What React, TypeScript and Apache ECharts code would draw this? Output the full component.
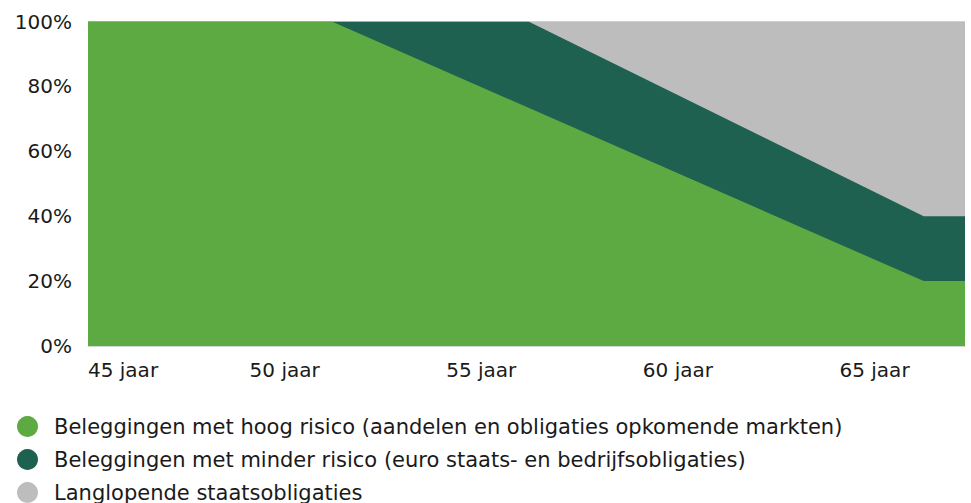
import React, { useEffect, useRef } from "react";
import * as echarts from "echarts";

const seriesNames = [
  "Beleggingen met hoog risico (aandelen en obligaties opkomende markten)",
  "Beleggingen met minder risico (euro staats- en bedrijfsobligaties)",
  "Langlopende staatsobligaties",
];
const colors = ["#5DAA43", "#1F6150", "#BDBDBD"];

// Upper edge of the green band (high risk)
const highRiskAges = [45, 51.2, 66.25, 67.3];
const highRiskTop = [100, 100, 20, 20];
// Upper edge of the dark-green band (high + lower risk)
const lowerRiskAges = [45, 56.2, 66.25, 67.3];
const lowerRiskTop = [100, 100, 40, 40];
// Upper edge of the grey band (everything)
const longBondAges = [45, 67.3];
const longBondTop = [100, 100];

const xTicks = [45, 50, 55, 60, 65];
const yTicks = [0, 20, 40, 60, 80, 100];

const FONT = "'DejaVu Sans', 'Liberation Sans', Arial, sans-serif";

const zip = (a: number[], b: number[]) => a.map((v, i) => [v, b[i]]);

export default function App() {
  const ref = useRef<HTMLDivElement>(null);
  useEffect(() => {
    if (!ref.current) return;
    const chart = echarts.init(ref.current, null, { renderer: "svg" });
    const area = (name: string, color: string, data: number[][], z: number) => ({
      name,
      type: "line",
      data,
      z,
      symbol: "none",
      showSymbol: false,
      lineStyle: { width: 0, color },
      itemStyle: { color },
      areaStyle: { color, opacity: 1 },
      silent: true,
    });
    const legendTops = [416, 449, 482];
    chart.setOption({
      animation: false,
      grid: { left: 88, right: 6, top: 21.5, bottom: 157 },
      xAxis: {
        type: "value",
        min: xTicks[0],
        max: 67.3,
        interval: 5,
        axisLine: { show: true, lineStyle: { color: "#cfd8cc", width: 1 } },
        axisTick: { show: false },
        splitLine: { show: false },
        axisLabel: {
          color: "#1a1a1a",
          fontSize: 20,
          fontFamily: FONT,
          margin: 14,
          showMaxLabel: false,
          alignMinLabel: "left",
          formatter: (v: number) => (xTicks.includes(v) ? `${v} jaar` : ""),
        },
      },
      yAxis: {
        type: "value",
        min: 0,
        max: 100,
        interval: 20,
        axisLine: { show: false },
        axisTick: { show: false },
        splitLine: { show: true, lineStyle: { color: "#d6d6d6", width: 1 } },
        axisLabel: {
          color: "#1a1a1a",
          fontSize: 20,
          fontFamily: FONT,
          margin: 16,
          formatter: (v: number) => (yTicks.includes(v) ? `${v}%` : ""),
        },
      },
      legend: seriesNames.map((name, i) => ({
        orient: "vertical",
        left: 17,
        top: legendTops[i],
        padding: 0,
        icon: "circle",
        itemWidth: 23,
        itemHeight: 21,
        selectedMode: false,
        data: [name],
        textStyle: {
          color: "#1a1a1a",
          fontSize: 21,
          fontFamily: FONT,
          padding: [0, 0, 0, 10],
        },
      })),
      series: [
        area(seriesNames[2], colors[2], zip(longBondAges, longBondTop), 1),
        area(seriesNames[1], colors[1], zip(lowerRiskAges, lowerRiskTop), 2),
        area(seriesNames[0], colors[0], zip(highRiskAges, highRiskTop), 3),
      ],
    });
    return () => chart.dispose();
  }, []);
  return (
    <div
      ref={ref}
      style={{ position: "fixed", left: 0, top: 0, width: 971, height: 503, background: "#fff" }}
    />
  );
}
